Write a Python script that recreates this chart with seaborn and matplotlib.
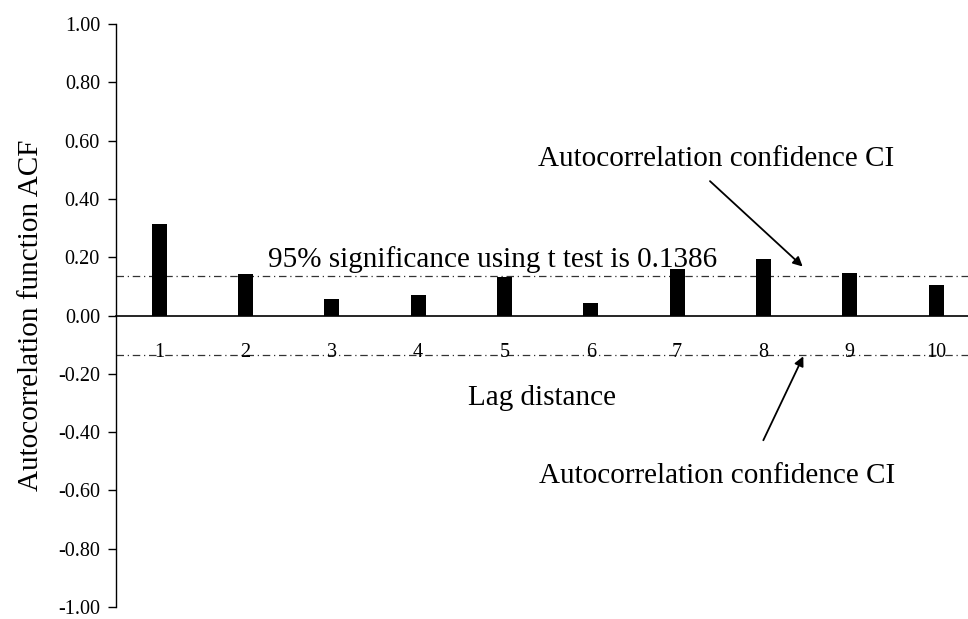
import matplotlib
matplotlib.use("Agg")
import matplotlib.pyplot as plt
import seaborn as sns
import pandas as pd
from matplotlib.ticker import FormatStrFormatter

lags = ["1", "2", "3", "4", "5", "6", "7", "8", "9", "10"]
acf = [0.314, 0.141, 0.058, 0.072, 0.132, 0.043, 0.160, 0.195, 0.145, 0.105]
ci = 0.134
yticks = [1.0, 0.8, 0.6, 0.4, 0.2, 0.0, -0.2, -0.4, -0.6, -0.8, -1.0]

sns.set_theme(style="white")
plt.rcParams["font.family"] = ["Liberation Serif", "DejaVu Serif"]
plt.rcParams["axes.unicode_minus"] = False
plt.rcParams["text.color"] = "black"
plt.rcParams["axes.labelcolor"] = "black"
plt.rcParams["xtick.color"] = "black"
plt.rcParams["ytick.color"] = "black"

df = pd.DataFrame({"lag": lags, "acf": acf})

fig = plt.figure(figsize=(9.68, 6.19), dpi=100)
ax = fig.add_axes([0.1198, 0.0194, 0.8802, 0.9418])

sns.barplot(data=df, x="lag", y="acf", color="black", width=0.175,
            saturation=1, ax=ax, edgecolor="black", linewidth=0)

ax.set_xlim(-0.5, 9.37)
ax.set_ylim(-1.0, 1.0)
ax.set_yticks(yticks)
ax.yaxis.set_major_formatter(FormatStrFormatter("%.2f"))

for s in ["top", "right"]:
    ax.spines[s].set_visible(False)
ax.spines["left"].set_color("black")
ax.spines["left"].set_linewidth(1.0)
ax.spines["bottom"].set_position(("data", 0))
ax.spines["bottom"].set_color("black")
ax.spines["bottom"].set_linewidth(1.2)

ax.tick_params(axis="y", direction="out", length=5.5, width=1, colors="black",
               labelsize=14.5, pad=6, left=True)
ax.tick_params(axis="x", length=0, labelsize=14.5, pad=20, bottom=True,
               colors="black")

ls = (0, (6, 3, 1, 3))
ax.axhline(ci, color="#333333", lw=0.9, linestyle=ls, zorder=0)
ax.axhline(-ci, color="#333333", lw=0.9, linestyle=ls, zorder=0)

ax.set_ylabel("Autocorrelation function ACF", fontsize=21, labelpad=10,
              color="black")
ax.set_xlabel("Lag distance", fontsize=21, color="black")
ax.xaxis.label.set_va("baseline")
ax.xaxis.set_label_coords(0.5006, (-0.306 + 1) / 2)

ax.text(1.26, 0.168, "95% significance using t test is 0.1386", fontsize=21,
        ha="left", va="baseline", color="black")

ax.annotate("", xy=(7.455, 0.168), xytext=(6.381, 0.461),
            arrowprops=dict(arrowstyle="-|>", color="black", lw=1.3,
                            mutation_scale=14, shrinkA=0, shrinkB=0))
ax.text(6.457, 0.512, "Autocorrelation confidence CI", fontsize=21,
        ha="center", va="baseline", color="black")

ax.annotate("", xy=(7.462, -0.140), xytext=(6.999, -0.428),
            arrowprops=dict(arrowstyle="-|>", color="black", lw=1.3,
                            mutation_scale=14, shrinkA=0, shrinkB=0))
ax.text(6.466, -0.574, "Autocorrelation confidence CI", fontsize=21,
        ha="center", va="baseline", color="black")

fig.savefig("out.png", dpi=100)
